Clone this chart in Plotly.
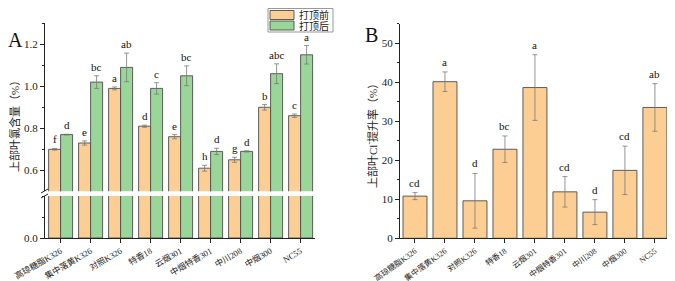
import plotly.graph_objects as go

categories = ["高琼糖脂K326", "集中落黄K326", "对照K326", "特香18", "云烟301",
              "中烟特香301", "中川208", "中烟300", "NC55"]
series_names = ["打顶前", "打顶后"]
before = [0.70, 0.73, 0.99, 0.81, 0.76, 0.61, 0.65, 0.90, 0.86]
before_err = [0.004, 0.010, 0.007, 0.005, 0.010, 0.014, 0.012, 0.013, 0.008]
before_sig = ["f", "e", "a", "d", "e", "h", "g", "b", "c"]
after = [0.77, 1.02, 1.09, 0.99, 1.05, 0.69, 0.69, 1.06, 1.15]
after_err = [0.002, 0.030, 0.068, 0.027, 0.047, 0.015, 0.003, 0.047, 0.044]
after_sig = ["d", "bc", "ab", "c", "bc", "d", "d", "abc", "a"]
rise = [10.8, 40.1, 9.6, 22.8, 38.6, 11.9, 6.7, 17.4, 33.5]
rise_err = [0.9, 2.5, 7.0, 3.4, 8.4, 3.9, 3.2, 6.2, 6.1]
rise_sig = ["cd", "a", "d", "bc", "a", "cd", "d", "cd", "ab"]

# page body has an 8px default margin, so the figure is drawn 8px in
OFF = 8
W, H = 675 - OFF, 281 - OFF
ORANGE = "#FDCE93"
GREEN = "#9AD698"
EDGE = "#4d4d4d"
ERRC = "#7a7a7a"
SERIF = "Liberation Serif, Times New Roman, Noto Sans CJK SC, serif"
CJK = "Liberation Serif, Noto Sans CJK SC, serif"

def px(x):
    return (x - OFF) / W

def py(y):
    return 1 - (y - OFF) / H

idx = list(range(len(categories)))

fig = go.Figure()

def err(vals):
    return dict(type="data", array=vals, visible=True, color=ERRC,
                thickness=0.8, width=2.5)

# Panel A: upper and lower segments (broken axis)
for xa, ya in [("x", "y"), ("x2", "y2")]:
    fig.add_trace(go.Bar(x=idx, y=before, error_y=err(before_err), name=series_names[0],
                         marker=dict(color=ORANGE, line=dict(color=EDGE, width=0.9)),
                         xaxis=xa, yaxis=ya, showlegend=False, offsetgroup="b"))
    fig.add_trace(go.Bar(x=idx, y=after, error_y=err(after_err), name=series_names[1],
                         marker=dict(color=GREEN, line=dict(color=EDGE, width=0.9)),
                         xaxis=xa, yaxis=ya, showlegend=False, offsetgroup="a"))

# Panel B
fig.add_trace(go.Bar(x=idx, y=rise, error_y=err(rise_err), name="提升率",
                     marker=dict(color=ORANGE, line=dict(color=EDGE, width=0.9)),
                     xaxis="x3", yaxis="y3", showlegend=False, width=0.8))

annotations = []
for i in idx:
    annotations.append(dict(x=i - 0.2, y=before[i] + before_err[i], xref="x", yref="y",
                            text=before_sig[i], showarrow=False, yanchor="bottom", yshift=1,
                            font=dict(family=SERIF, size=11, color="#111")))
    annotations.append(dict(x=i + 0.2, y=after[i] + after_err[i], xref="x", yref="y",
                            text=after_sig[i], showarrow=False, yanchor="bottom", yshift=1,
                            font=dict(family=SERIF, size=11, color="#111")))
    annotations.append(dict(x=i, y=rise[i] + rise_err[i], xref="x3", yref="y3",
                            text=rise_sig[i], showarrow=False, yanchor="bottom", yshift=2,
                            font=dict(family=SERIF, size=11, color="#111")))

annotations += [
    dict(x=px(15), y=py(40), xref="paper", yref="paper", text="A", showarrow=False,
         xanchor="center", yanchor="middle",
         font=dict(family=SERIF, size=20, color="#111")),
    dict(x=px(372), y=py(35), xref="paper", yref="paper", text="B", showarrow=False,
         xanchor="center", yanchor="middle",
         font=dict(family=SERIF, size=20, color="#111")),
    dict(x=px(14), y=py(124), xref="paper", yref="paper", text="上部叶氯含量（%）",
         xanchor="center", yanchor="middle",
         textangle=-90, showarrow=False, font=dict(family=CJK, size=11, color="#222")),
    dict(x=px(372), y=py(133), xref="paper", yref="paper", text="上部叶Cl<sup>-</sup>提升率（%）",
         xanchor="center", yanchor="middle",
         textangle=-90, showarrow=False, font=dict(family=CJK, size=11, color="#222")),
]

# legend box (top-right of panel A)
shapes = [
    dict(type="rect", xref="paper", yref="paper", x0=px(268), y0=py(32), x1=px(333), y1=py(8.5),
         line=dict(color="#999", width=1), fillcolor="white", layer="above"),
]
for k, (name, col) in enumerate(zip(series_names, [ORANGE, GREEN])):
    top = 10.5 + k * 10.5
    shapes.append(dict(type="rect", xref="paper", yref="paper", x0=px(270), y0=py(top + 9),
                       x1=px(294), y1=py(top), line=dict(color=EDGE, width=0.9),
                       fillcolor=col, layer="above"))
    annotations.append(dict(x=px(297), y=py(top + 4.5), xref="paper", yref="paper", text=name,
                            xanchor="left", yanchor="middle", showarrow=False,
                            font=dict(family=CJK, size=10, color="#222")))

# axis break marks
shapes += [
    dict(type="line", xref="paper", yref="paper", x0=px(41), y0=py(193),
         x1=px(48), y1=py(189), line=dict(color="#222", width=1)),
    dict(type="line", xref="paper", yref="paper", x0=px(41), y0=py(198),
         x1=px(48), y1=py(194), line=dict(color="#222", width=1)),
]

axis_common = dict(showline=True, linecolor="#222", linewidth=1.2, ticks="outside",
                   tickcolor="#222", ticklen=4, tickwidth=1, showgrid=False, zeroline=False,
                   automargin=False,
                   tickfont=dict(family=SERIF, size=11, color="#222"))

xa_dom = [px(45), px(315)]
xb_dom = [px(400), px(672)]
xtick_a = dict(tickmode="array", tickvals=idx, ticktext=categories, tickangle=-30,
               tickfont=dict(family=CJK, size=8.5, color="#222"))
xtick_b = dict(tickmode="array", tickvals=idx, ticktext=categories, tickangle=-36,
               tickfont=dict(family=CJK, size=8, color="#222"))

fig.update_layout(
    width=W, height=H,
    margin=dict(l=0, r=0, t=0, b=0, pad=0, autoexpand=False),
    paper_bgcolor="white", plot_bgcolor="white",
    barmode="group", bargap=0.2, bargroupgap=0,
    showlegend=False,
    xaxis=dict(domain=xa_dom, anchor="y", range=[-0.52, 8.48], showline=False,
               showticklabels=False, ticks="", showgrid=False, zeroline=False,
               automargin=False),
    yaxis=dict(domain=[py(191.3), py(23.3)], anchor="x", range=[0.5, 1.3],
               tickvals=[0.6, 0.8, 1.0, 1.2], ticktext=["0.6", "0.8", "1.0", "1.2"],
               minor=dict(ticks="outside", ticklen=2, tickcolor="#222",
                          tickvals=[0.7, 0.9, 1.1, 1.3]),
               **axis_common),
    xaxis2=dict(domain=xa_dom, anchor="y2", range=[-0.52, 8.48], matches="x",
                **{**axis_common, **xtick_a}),
    yaxis2=dict(domain=[py(238), py(196)], anchor="x2", range=[0, 0.2],
                tickvals=[0.0], ticktext=["0.0"],
                minor=dict(ticks="outside", ticklen=2, tickcolor="#222", tickvals=[0.1, 0.2]),
                **axis_common),
    xaxis3=dict(domain=xb_dom, anchor="y3", range=[-0.5, 8.57],
                **{**axis_common, **xtick_b}),
    yaxis3=dict(domain=[py(238.3), py(23.5)], anchor="x3", range=[0, 55],
                tickvals=[0, 10, 20, 30, 40, 50],
                minor=dict(ticks="outside", ticklen=2, tickcolor="#222",
                           tickvals=[5, 15, 25, 35, 45, 55]),
                **axis_common),
    annotations=annotations,
    shapes=shapes,
)

fig.write_html("out.html")
